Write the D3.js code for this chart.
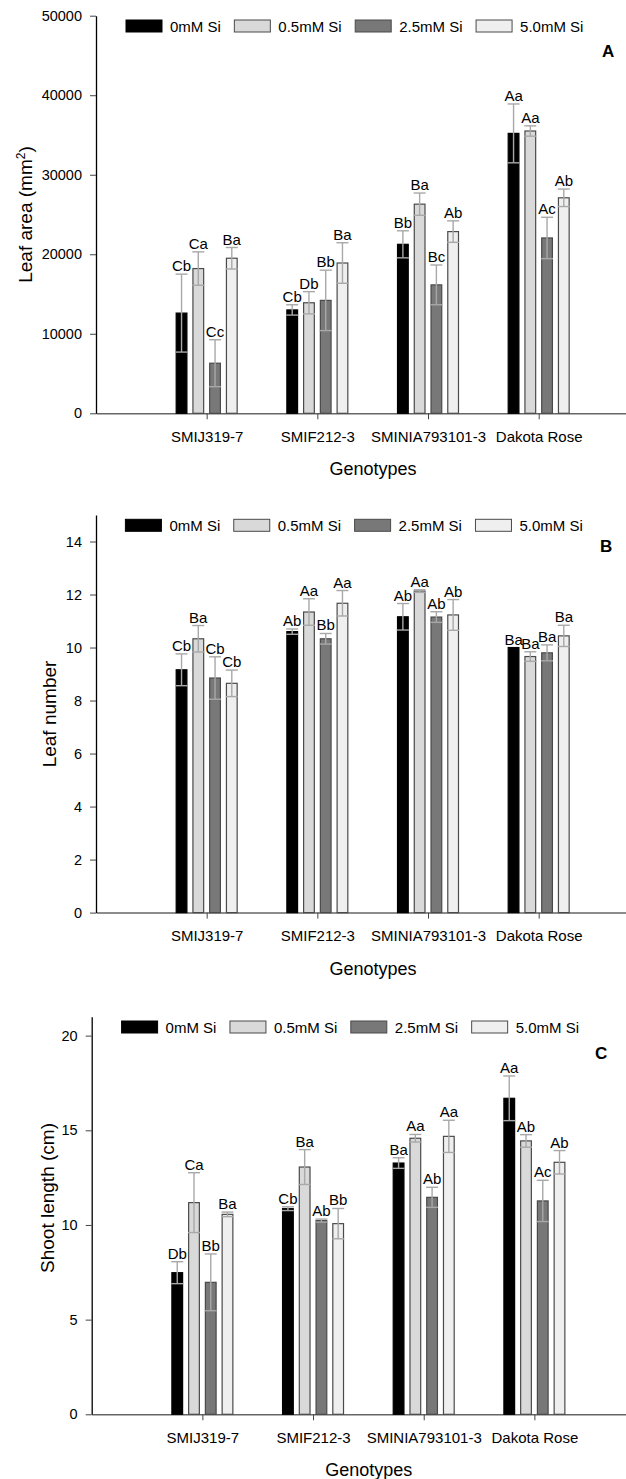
<!DOCTYPE html>
<html>
<head>
<meta charset="utf-8">
<script src="https://cdn.jsdelivr.net/npm/d3@7"></script>
<style>
  body { margin: 0; background: #fff; }
  svg text { font-family: "Liberation Sans", Arial, sans-serif; fill: #000; }
</style>
</head>
<body>
<script>
var svgWidth = 626;
var svgHeight = 1479;

// data
var categories = ["SMIJ319-7", "SMIF212-3", "SMINIA793101-3", "Dakota Rose"];
var series = ["0mM Si", "0.5mM Si", "2.5mM Si", "5.0mM Si"];
var seriesFill = ["#000000", "#d9d9d9", "#787878", "#efefef"];

// leaf area (mm2), one row per series
var leafArea = [
    [12600, 13000, 21250, 35200],
    [18200, 13900, 26300, 35500],
    [6300, 14200, 16150, 22050],
    [19500, 18900, 22850, 27100]
];
var leafAreaErr = [
    [4900, 650, 1700, 3700],
    [2100, 1400, 1400, 650],
    [2950, 3800, 2500, 2600],
    [1350, 2550, 1350, 1100]
];
var leafAreaLetters = [
    ["Cb", "Cb", "Bb", "Aa"],
    ["Ca", "Db", "Ba", "Aa"],
    ["Cc", "Bb", "Bc", "Ac"],
    ["Ba", "Ba", "Ab", "Ab"]
];

// leaf number
var leafNumber = [
    [9.16, 10.6, 11.16, 10.0],
    [10.33, 11.34, 12.13, 9.66],
    [8.85, 10.33, 11.15, 9.8],
    [8.65, 11.67, 11.23, 10.44]
];
var leafNumberErr = [
    [0.6, 0.1, 0.5, 0],
    [0.5, 0.5, 0.05, 0.18],
    [0.8, 0.2, 0.2, 0.3],
    [0.5, 0.48, 0.58, 0.4]
];
var leafNumberLetters = [
    ["Cb", "Ab", "Ab", "Ba"],
    ["Ba", "Aa", "Aa", "Ba"],
    ["Cb", "Bb", "Ab", "Ba"],
    ["Cb", "Aa", "Ab", "Ba"]
];

// shoot length (cm)
var shootLength = [
    [7.48, 10.86, 13.27, 16.69],
    [11.18, 13.06, 14.58, 14.44],
    [6.97, 10.23, 11.46, 11.27],
    [10.56, 10.07, 14.68, 13.31]
];
var shootLengthErr = [
    [0.58, 0.1, 0.28, 1.18],
    [1.58, 0.92, 0.2, 0.33],
    [1.5, 0.08, 0.53, 1.09],
    [0.12, 0.8, 0.85, 0.62]
];
var shootLengthLetters = [
    ["Db", "Cb", "Ba", "Aa"],
    ["Ca", "Ba", "Aa", "Ab"],
    ["Bb", "Ab", "Ab", "Ac"],
    ["Ba", "Bb", "Aa", "Ab"]
];

var svg = d3.select("body")
    .append("svg")
    .attr("width", svgWidth)
    .attr("height", svgHeight);

var panelHeight = 397.6;
var catStep = 110.67;

function drawPanel(opt) {
    var left = opt.left;
    var top = opt.top;
    var bottom = top + panelHeight;

    var g = svg.append("g");

    var x = d3.scaleLinear()
        .domain([0, 5])
        .range([left, left + 5 * catStep]);

    var y = d3.scaleLinear()
        .domain([0, opt.yMax])
        .range([bottom, top]);

    var inner = d3.scaleBand()
        .domain(d3.range(series.length))
        .range([-catStep * 0.3027, catStep * 0.3027])
        .paddingInner(0.36)
        .paddingOuter(0.18);

    // flatten the rows into marks
    var rows = [];
    opt.values.forEach(function (row, s) {
        row.forEach(function (v, c) {
            rows.push({ s: s, c: c, v: v, e: opt.errors[s][c], lab: opt.letters[s][c] });
        });
    });

    // x axis
    var bottomAxis = d3.axisBottom(x)
        .tickValues([1, 2, 3, 4])
        .tickFormat(d => categories[d - 1])
        .tickSizeInner(6)
        .tickSizeOuter(0)
        .tickPadding(12);

    var xg = g.append("g")
        .attr("transform", `translate(0, ${bottom})`)
        .call(bottomAxis);
    xg.select(".domain").attr("stroke", "#666").attr("stroke-width", 1.5);
    xg.selectAll(".tick line").attr("stroke", "#444");
    xg.selectAll(".tick text").style("font-size", "15px");

    // bars
    g.selectAll(".bar")
        .data(rows)
        .enter()
        .append("rect")
        .attr("x", d => x(d.c + 1) + inner(d.s))
        .attr("y", d => y(d.v))
        .attr("width", inner.bandwidth())
        .attr("height", d => bottom - y(d.v))
        .attr("fill", d => seriesFill[d.s])
        .attr("stroke", d => d.s === 0 ? "#000" : "#4a4a4a")
        .attr("stroke-width", 1.2);

    // error bars (both directions)
    var eb = g.selectAll(".err")
        .data(rows.filter(d => d.e > 0))
        .enter()
        .append("g")
        .attr("stroke", "#a8a8a8")
        .attr("stroke-width", 1.4);
    var cx = d => x(d.c + 1) + inner(d.s) + inner.bandwidth() / 2;
    eb.append("line")
        .attr("x1", cx).attr("x2", cx)
        .attr("y1", d => y(d.v - d.e))
        .attr("y2", d => y(d.v + d.e));
    eb.append("line")
        .attr("x1", d => cx(d) - 6).attr("x2", d => cx(d) + 6)
        .attr("y1", d => y(d.v + d.e)).attr("y2", d => y(d.v + d.e));
    eb.append("line")
        .attr("x1", d => cx(d) - 6).attr("x2", d => cx(d) + 6)
        .attr("y1", d => y(d.v - d.e)).attr("y2", d => y(d.v - d.e));

    // significance letters
    g.selectAll(".lab")
        .data(rows)
        .enter()
        .append("text")
        .attr("x", cx)
        .attr("y", d => y(d.v + d.e) - 3)
        .attr("text-anchor", "middle")
        .style("font-size", "15px")
        .text(d => d.lab);

    // y axis
    var leftAxis = d3.axisLeft(y)
        .tickValues(opt.ticks)
        .tickFormat(d3.format("d"))
        .tickSizeInner(6)
        .tickSizeOuter(0)
        .tickPadding(8);
    var yg = g.append("g")
        .attr("transform", `translate(${left}, 0)`)
        .call(leftAxis);
    yg.select(".domain").attr("stroke", "#000").attr("stroke-width", 1.3);
    yg.selectAll(".tick line").attr("stroke", "#444");
    yg.selectAll(".tick text").style("font-size", "14.5px");

    // axis titles
    var yt = g.append("text")
        .attr("transform", `translate(${opt.yTitleX}, ${opt.yTitleY}) rotate(-90)`)
        .attr("text-anchor", "middle")
        .style("font-size", "19px");
    yt.append("tspan").text(opt.yTitle[0]);
    if (opt.yTitle.length > 1) {
        yt.append("tspan").attr("dy", -7).style("font-size", "12px").text(opt.yTitle[1]);
        yt.append("tspan").attr("dy", 7).text(opt.yTitle[2]);
    }

    g.append("text")
        .attr("x", left + 277)
        .attr("y", bottom + 62)
        .attr("text-anchor", "middle")
        .style("font-size", "18px")
        .text("Genotypes");

    // panel letter
    g.append("text")
        .attr("x", opt.letterX)
        .attr("y", top + opt.letterDy)
        .style("font-size", "17px")
        .style("font-weight", "bold")
        .text(opt.letter);

    // legend
    var lx = opt.legendX;
    var ly = top + 4.3;
    series.forEach(function (name, s) {
        g.append("rect")
            .attr("x", lx).attr("y", ly)
            .attr("width", 36).attr("height", 12)
            .attr("fill", seriesFill[s])
            .attr("stroke", s === 0 ? "#000" : "#4a4a4a")
            .attr("stroke-width", 1);
        var t = g.append("text")
            .attr("x", lx + 44)
            .attr("y", ly + 12)
            .style("font-size", "15px")
            .text(name);
        lx += 44 + t.node().getComputedTextLength() + 13.5;
    });
}

drawPanel({
    left: 96, top: 15.7, yMax: 50000,
    ticks: [0, 10000, 20000, 30000, 40000, 50000],
    values: leafArea, errors: leafAreaErr, letters: leafAreaLetters,
    yTitle: ["Leaf area (mm", "2", ")"], yTitleX: 32, yTitleY: 214.5,
    letter: "A", letterX: 602, letterDy: 41, legendX: 126
});

drawPanel({
    left: 96, top: 515, yMax: 15,
    ticks: [0, 2, 4, 6, 8, 10, 12, 14],
    values: leafNumber, errors: leafNumberErr, letters: leafNumberLetters,
    yTitle: ["Leaf number"], yTitleX: 56, yTitleY: 714,
    letter: "B", letterX: 600, letterDy: 37, legendX: 125.4
});

drawPanel({
    left: 91.7, top: 1016.7, yMax: 21,
    ticks: [0, 5, 10, 15, 20],
    values: shootLength, errors: shootLengthErr, letters: shootLengthLetters,
    yTitle: ["Shoot length (cm)"], yTitleX: 54, yTitleY: 1198,
    letter: "C", letterX: 595, letterDy: 42, legendX: 121.6
});
</script>
</body>
</html>
